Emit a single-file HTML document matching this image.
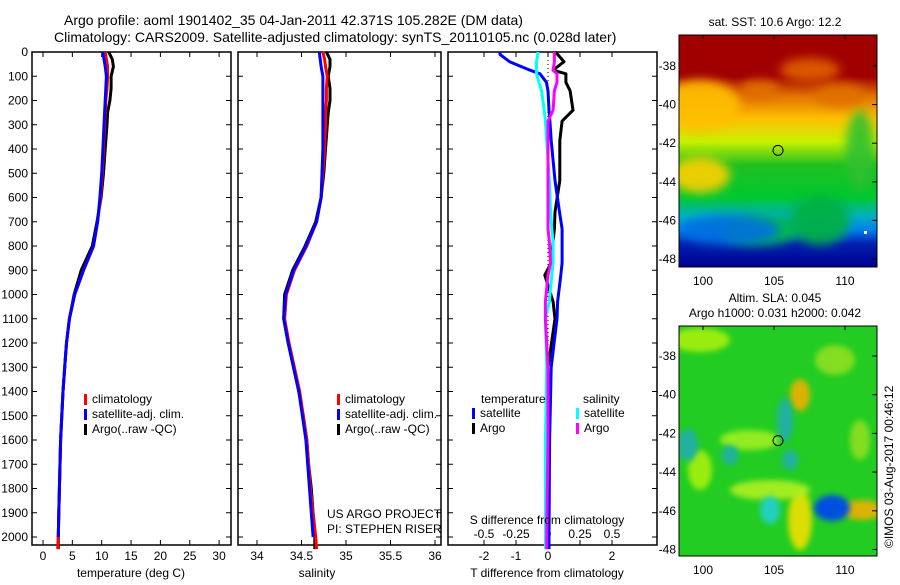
<!DOCTYPE html>
<html><head><meta charset="utf-8"><style>
body{margin:0;background:#fff;font-family:"Liberation Sans",sans-serif}
svg text{font-family:"Liberation Sans",sans-serif;font-size:12px;fill:#000}
</style></head><body>
<svg id="fig" width="900" height="580" xmlns="http://www.w3.org/2000/svg">
<defs>
<filter id="bl" x="-50%" y="-50%" width="200%" height="200%"><feGaussianBlur stdDeviation="5"/></filter>
<filter id="bl2" x="-50%" y="-50%" width="200%" height="200%"><feGaussianBlur stdDeviation="3"/></filter>
<clipPath id="c1"><rect x="679" y="35" width="198" height="232"/></clipPath>
<clipPath id="c2"><rect x="679" y="326" width="198" height="230"/></clipPath>
<linearGradient id="sst" x1="0" y1="0" x2="0" y2="1">
<stop offset="0" stop-color="#a00000"/><stop offset="0.18" stop-color="#a00000"/><stop offset="0.26" stop-color="#e07000"/>
<stop offset="0.36" stop-color="#ffc000"/><stop offset="0.46" stop-color="#c8f000"/><stop offset="0.56" stop-color="#20c020"/>
<stop offset="0.7" stop-color="#00c830"/><stop offset="0.78" stop-color="#00b0c0"/><stop offset="0.84" stop-color="#0080f0"/>
<stop offset="0.9" stop-color="#0020b0"/><stop offset="1" stop-color="#000090"/></linearGradient>
</defs>
<text x="64" y="25" style="font-size:14px">Argo profile: aoml 1901402_35 04-Jan-2011 42.371S 105.282E (DM data)</text>
<text x="54" y="42" style="font-size:14px">Climatology: CARS2009. Satellite-adjusted climatology: synTS_20110105.nc (0.028d later)</text>
<g id="plots"></g>
</svg>
<script>
// depth levels (m)
const depths=[0,30,60,100,150,200,250,300,400,500,600,700,800,900,1000,1100,1200,1300,1400,1500,1600,1700,1800,1900,2000,2050];
const tempClim=[10.6,10.8,11.0,11.0,10.9,10.7,10.6,10.5,10.3,10.1,9.8,9.3,8.6,6.9,5.4,4.5,4.0,3.7,3.4,3.2,3.0,2.9,2.8,2.7,2.6,2.5];
const tempSat=[10.2,10.4,10.6,10.8,10.7,10.6,10.5,10.4,10.2,10.0,9.7,9.3,8.6,6.9,5.4,4.5,4.0,3.7,3.4,3.2,3.0,2.9,2.8,2.7,2.6,2.6];
const tempArgo=[11.2,11.8,12.0,11.6,11.6,11.4,11.0,10.9,10.6,10.3,9.9,9.2,8.4,6.5,5.3,4.5,4.0,3.7,3.4,3.2,3.0,2.9,2.8,2.7,2.6,2.6];
const salClim=[34.74,34.76,34.77,34.79,34.78,34.78,34.77,34.77,34.76,34.74,34.72,34.67,34.56,34.42,34.33,34.31,34.36,34.42,34.48,34.52,34.56,34.58,34.6,34.63,34.66,34.67];
const salSat=[34.70,34.71,34.72,34.74,34.74,34.74,34.74,34.74,34.74,34.73,34.72,34.67,34.55,34.41,34.32,34.30,34.35,34.41,34.47,34.51,34.55,34.57,34.59,34.61,34.63,34.63];
const salArgo=[34.78,34.82,34.82,34.80,34.82,34.82,34.80,34.79,34.77,34.75,34.72,34.66,34.54,34.40,34.31,34.30,34.35,34.41,34.47,34.52,34.56,34.58,34.61,34.63,34.65,34.65];
const tdDepths=[0,10,40,75,90,125,160,240,285,365,530,660,730,780,870,920,1030,1100,1300,1600,2000,2050];
const tdSat=[-1.5,-1.5,-1.2,-0.56,-0.25,-0.05,0,0.03,0.06,0.1,0.22,0.36,0.44,0.44,0.44,0.4,0.3,0.28,0.1,0.05,0.03,0.03];
const tdArgo=[0.22,0.3,0.5,0.16,0.56,0.56,0.69,0.78,0.44,0.37,0.37,0.22,0.2,0.16,0.1,-0.1,0.16,0.22,0.0,-0.05,-0.05,-0.05];
const sdSat=[-0.08,-0.08,-0.09,-0.09,-0.09,-0.07,-0.05,-0.03,-0.02,-0.01,0.01,0.02,0.03,0.04,0.04,0.03,0.01,-0.02,-0.01,-0.02,-0.02,-0.02];
const sdArgo=[0.05,0.05,0.05,0.04,0.07,0.07,0.05,0.04,0.0,0.0,0.0,0.0,0.0,0.01,0.02,0.0,-0.02,-0.02,0.0,0.0,-0.01,-0.01];
const depthTicks=[0,100,200,300,400,500,600,700,800,900,1000,1100,1200,1300,1400,1500,1600,1700,1800,1900,2000];
const tempTicks=[0,5,10,15,20,25,30];
const salTicks=[34,34.5,35,35.5,36];
const salTickLabels=['34','34.5','35','35.5','36'];
const tdTicks=[-2,-1,0,1,2];
const tdTickLabels=['-2','-1','0','','2'];
const sdTicks=[-0.5,-0.25,0,0.25,0.5];
const sdTickLabels=['-0.5','-0.25','0','0.25','0.5'];
const latTicks=[-38,-40,-42,-44,-46,-48];
const lonTicks=[100,105,110];
const argoLon=105.282, argoLat=-42.371;

const NS='http://www.w3.org/2000/svg';
const G=document.getElementById('plots');
function el(t,a,p){const e=document.createElementNS(NS,t);for(const k in a)e.setAttribute(k,a[k]);(p||G).appendChild(e);return e;}
const yD=d=>52+d*0.2425;
const TOP=52,BOT=545;
function frame(x0,x1,name){
 const r=el('rect',{x:x0,y:TOP,width:x1-x0,height:BOT-TOP,fill:'none',stroke:'#000','stroke-width':1.5});
 
 
}
function yTicks(x0,x1,labels){
 depthTicks.forEach(d=>{const y=yD(d);
  el('line',{x1:x0,y1:y,x2:x0+5,y2:y,stroke:'#000'});
  el('line',{x1:x1,y1:y,x2:x1-5,y2:y,stroke:'#000'});
  if(labels){const t=el('text',{x:x0-4,y:y+4,'text-anchor':'end'});t.textContent=d;
   
   }
 });
}
function xTicks(sc,ticks,labs,y,top){
 ticks.forEach((v,i)=>{const x=sc(v);
  el('line',{x1:x,y1:BOT,x2:x,y2:BOT-5,stroke:'#000'});
  if(top) el('line',{x1:x,y1:TOP,x2:x,y2:TOP+5,stroke:'#000'});
  const t=el('text',{x:x,y:y,'text-anchor':'middle'});t.textContent=labs[i];
  
  
 });
}
function line(sc,vals,ds,col,name,w){
 const pts=vals.map((v,i)=>sc(v).toFixed(1)+','+yD(ds[i]).toFixed(1)).join(' ');
 const p=el('polyline',{points:pts,fill:'none',stroke:col,'stroke-width':w||3,'stroke-linejoin':'round'});
 
 
}
function txt(x,y,s,name,extra){const t=el('text',Object.assign({x:x,y:y},extra||{}));t.textContent=s;
 
 return t;}
function legend(x,y,items){
 items.forEach((it,i)=>{el('rect',{x:x,y:y+i*15-9,width:3,height:11,fill:it[0]});
  txt(x+8,y+i*15,it[1],'legend-entry');});
}
// panel 1 temperature
const xT=v=>43+v*5.87;
frame(32,231,'temperature-panel');yTicks(32,231,true);
xTicks(xT,tempTicks,tempTicks.map(String),560,true);
line(xT,tempArgo,depths,'#000','argo-temperature-line');
line(xT,tempClim,depths,'#f00','climatology-temperature-line');
line(xT,tempSat,depths.slice(0,25),'#00f','satellite-temperature-line');
txt(131,577,'temperature (deg C)','temperature-axis-title',{'text-anchor':'middle'});
legend(84,403,[['#f00','climatology'],['#00f','satellite-adj. clim.'],['#000','Argo(..raw -QC)']]);
// panel 2 salinity
const xS=v=>257+(v-34)*89;
frame(238,441,'salinity-panel');yTicks(238,441,false);
xTicks(xS,salTicks,salTickLabels,560,true);
line(xS,salArgo,depths,'#000','argo-salinity-line');
line(xS,salClim,depths,'#f00','climatology-salinity-line');
line(xS,salSat,depths.slice(0,25),'#00f','satellite-salinity-line');
txt(317,577,'salinity','salinity-axis-title',{'text-anchor':'middle'});
legend(337,403,[['#f00','climatology'],['#00f','satellite-adj. clim.'],['#000','Argo(..raw -QC)']]);
txt(327,518,'US ARGO PROJECT','project-label');
txt(327,533,'PI: STEPHEN RISER','pi-label');
// panel 3 differences
const xTD=v=>548+v*32, xSD=v=>548+v*128;
frame(448,657,'difference-panel');yTicks(448,657,false);
el('line',{x1:548,y1:TOP,x2:548,y2:BOT,stroke:'#000','stroke-dasharray':'1,3'});
xTicks(xTD,tdTicks,tdTickLabels,560,true);
sdTicks.forEach((v,i)=>{const t=txt(xSD(v),538,sdTickLabels[i],'s-diff-tick-label',{'text-anchor':'middle'});});
line(xTD,tdArgo,tdDepths,'#000','argo-temp-diff-line');
line(xTD,tdSat,tdDepths,'#00f','satellite-temp-diff-line');
line(xSD,sdSat,tdDepths,'#0ff','satellite-sal-diff-line');
line(xSD,sdArgo,tdDepths,'#f0f','argo-sal-diff-line');
txt(547,524,'S difference from climatology','s-diff-axis-title',{'text-anchor':'middle'});
txt(547,577,'T difference from climatology','t-diff-axis-title',{'text-anchor':'middle'});
txt(481,403,'temperature','legend-temp-header');txt(583,403,'salinity','legend-sal-header');
legend(472,417,[['#00f','satellite'],['#000','Argo']]);
legend(576,417,[['#0ff','satellite'],['#f0f','Argo']]);
// maps
const mx=lon=>703+(lon-100)*14.2;
function map(y0,y1,latY,clip,title,name){
 const g=el('g',{'clip-path':'url(#'+clip+')'});
 
 
 return g;
}
const g1=map(35,267,null,'c1','','sst-map');
el('rect',{x:679,y:35,width:198,height:232,fill:'url(#sst)'},g1);
[[700,105,40,25,'#ffc000'],[760,90,20,10,'#e07000'],[840,95,25,12,'#e07000'],[700,175,30,18,'#ffd000'],[860,150,14,40,'#30c030'],[760,230,40,15,'#00c040'],[820,220,30,25,'#00b040'],[730,230,50,15,'#0070e0'],[810,70,30,12,'#e06000']].forEach(b=>el('ellipse',{cx:b[0],cy:b[1],rx:b[2],ry:b[3],fill:b[4],filter:'url(#bl)',opacity:0.9},g1));
el('rect',{x:864,y:231,width:3,height:3,fill:'#fff'},g1);
const g2=map(326,556,null,'c2','','sla-map');
el('rect',{x:679,y:326,width:198,height:230,fill:'#22cc22'},g2);
[[700,340,30,12,'#a8f010'],[800,395,10,16,'#f0b000'],[750,440,30,10,'#a0f020'],[700,470,12,20,'#a8f010'],[800,520,12,30,'#f0e000'],[770,490,40,10,'#b0f020'],[862,510,20,10,'#f0b000'],[835,360,20,15,'#90e020'],[860,440,10,20,'#90e020']].forEach(b=>el('ellipse',{cx:b[0],cy:b[1],rx:b[2],ry:b[3],fill:b[4],filter:'url(#bl2)',opacity:0.9},g2));
[[785,420,8,22,'#20b0a0'],[790,460,8,10,'#20b0a0'],[688,445,10,16,'#20b0a0'],[770,510,10,14,'#20d0c0'],[832,508,18,13,'#0050e0'],[730,455,8,10,'#20b0a0']].forEach(b=>el('ellipse',{cx:b[0],cy:b[1],rx:b[2],ry:b[3],fill:b[4],filter:'url(#bl2)'},g2));
function mapAxes(y0,y1,latY,name){
 const r=el('rect',{x:679,y:y0,width:198,height:y1-y0,fill:'none',stroke:'#000'});
 
 
 latTicks.forEach(l=>{const y=latY(l);el('line',{x1:877,y1:y,x2:872,y2:y,stroke:'#000'});
  txt(676,y+4,String(l),'lat-tick-label',{'text-anchor':'end'});});
 lonTicks.forEach(l=>{const x=mx(l);el('line',{x1:x,y1:y0,x2:x,y2:y0+4,stroke:'#000'});
  txt(x,y1+18,String(l),'lon-tick-label',{'text-anchor':'middle'});});
}
const ly1=l=>66+(-38-l)*19.3, ly2=l=>356+(-38-l)*19.35;
mapAxes(35,267,ly1,'sst-map-frame');
mapAxes(326,556,ly2,'sla-map-frame');
el('circle',{cx:mx(argoLon),cy:ly1(argoLat),r:5,fill:'none',stroke:'#000'});
el('circle',{cx:mx(argoLon),cy:ly2(argoLat),r:5,fill:'none',stroke:'#000'});
txt(775,26,'sat. SST: 10.6  Argo: 12.2','sst-map-title',{'text-anchor':'middle'});
txt(775,302,'Altim. SLA: 0.045','sla-map-title',{'text-anchor':'middle'});
txt(775,317,'Argo h1000: 0.031 h2000: 0.042','sla-map-subtitle',{'text-anchor':'middle'});
txt(0,0,'©IMOS 03-Aug-2017 00:46:12','copyright-label',{transform:'translate(893,548) rotate(-90)'});
</script>
</body></html>
